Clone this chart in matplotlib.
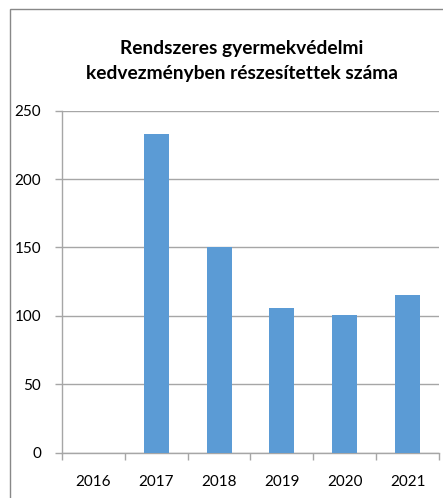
import matplotlib
matplotlib.use("Agg")
import matplotlib.pyplot as plt
from matplotlib.patches import Rectangle
import numpy as np

years = ["2016", "2017", "2018", "2019", "2020", "2021"]
values = [0, 233, 150, 106, 101, 115]
yticks = [0, 50, 100, 150, 200, 250]
title = "Rendszeres gyermekvédelmi\nkedvezményben részesítettek száma"

plt.rcParams['font.family'] = ['Lato', 'DejaVu Sans']
W, H = 443, 498
fig = plt.figure(figsize=(W/100, H/100), dpi=100)
fig.patch.set_facecolor('white')

# outer chart border
fig.add_artist(Rectangle((10/W, -0.1), 1.2, 1 - 9/H + 0.1, transform=fig.transFigure,
                         fill=False, edgecolor='#888888', linewidth=1.0))

ax = fig.add_axes([62/W, 1 - 452.7/H, (439-62)/W, (452.7-110.7)/H])
x = np.arange(len(years))
ax.bar(x, values, width=0.4, color='#5B9BD5', zorder=3)
ax.set_xlim(-0.5, len(years) - 0.5)
ax.set_ylim(0, 250)
ax.set_yticks(yticks)
ax.set_yticklabels([str(v) for v in yticks], fontsize=11)
ax.set_xticks(x)
ax.set_xticklabels(years, fontsize=11)
ax.set_xticks(np.arange(-0.5, len(years)), minor=True)
ax.tick_params(axis='x', which='major', length=0, pad=16, colors='black')
ax.tick_params(axis='x', which='minor', length=5, color='#A6A6A6', width=1)
ax.tick_params(axis='y', length=5, color='#A6A6A6', width=1, pad=10)
ax.grid(axis='y', color='#A6A6A6', linewidth=1, zorder=0)
for s in ['top', 'right']:
    ax.spines[s].set_visible(False)
for s in ['left', 'bottom']:
    ax.spines[s].set_color('#A6A6A6')
    ax.spines[s].set_linewidth(1)

fig.text(242/W, 1 - 61/H, title, ha='center', va='center', fontsize=13.8,
         fontweight='bold', linespacing=1.6)

fig.savefig("out.png", dpi=100)
